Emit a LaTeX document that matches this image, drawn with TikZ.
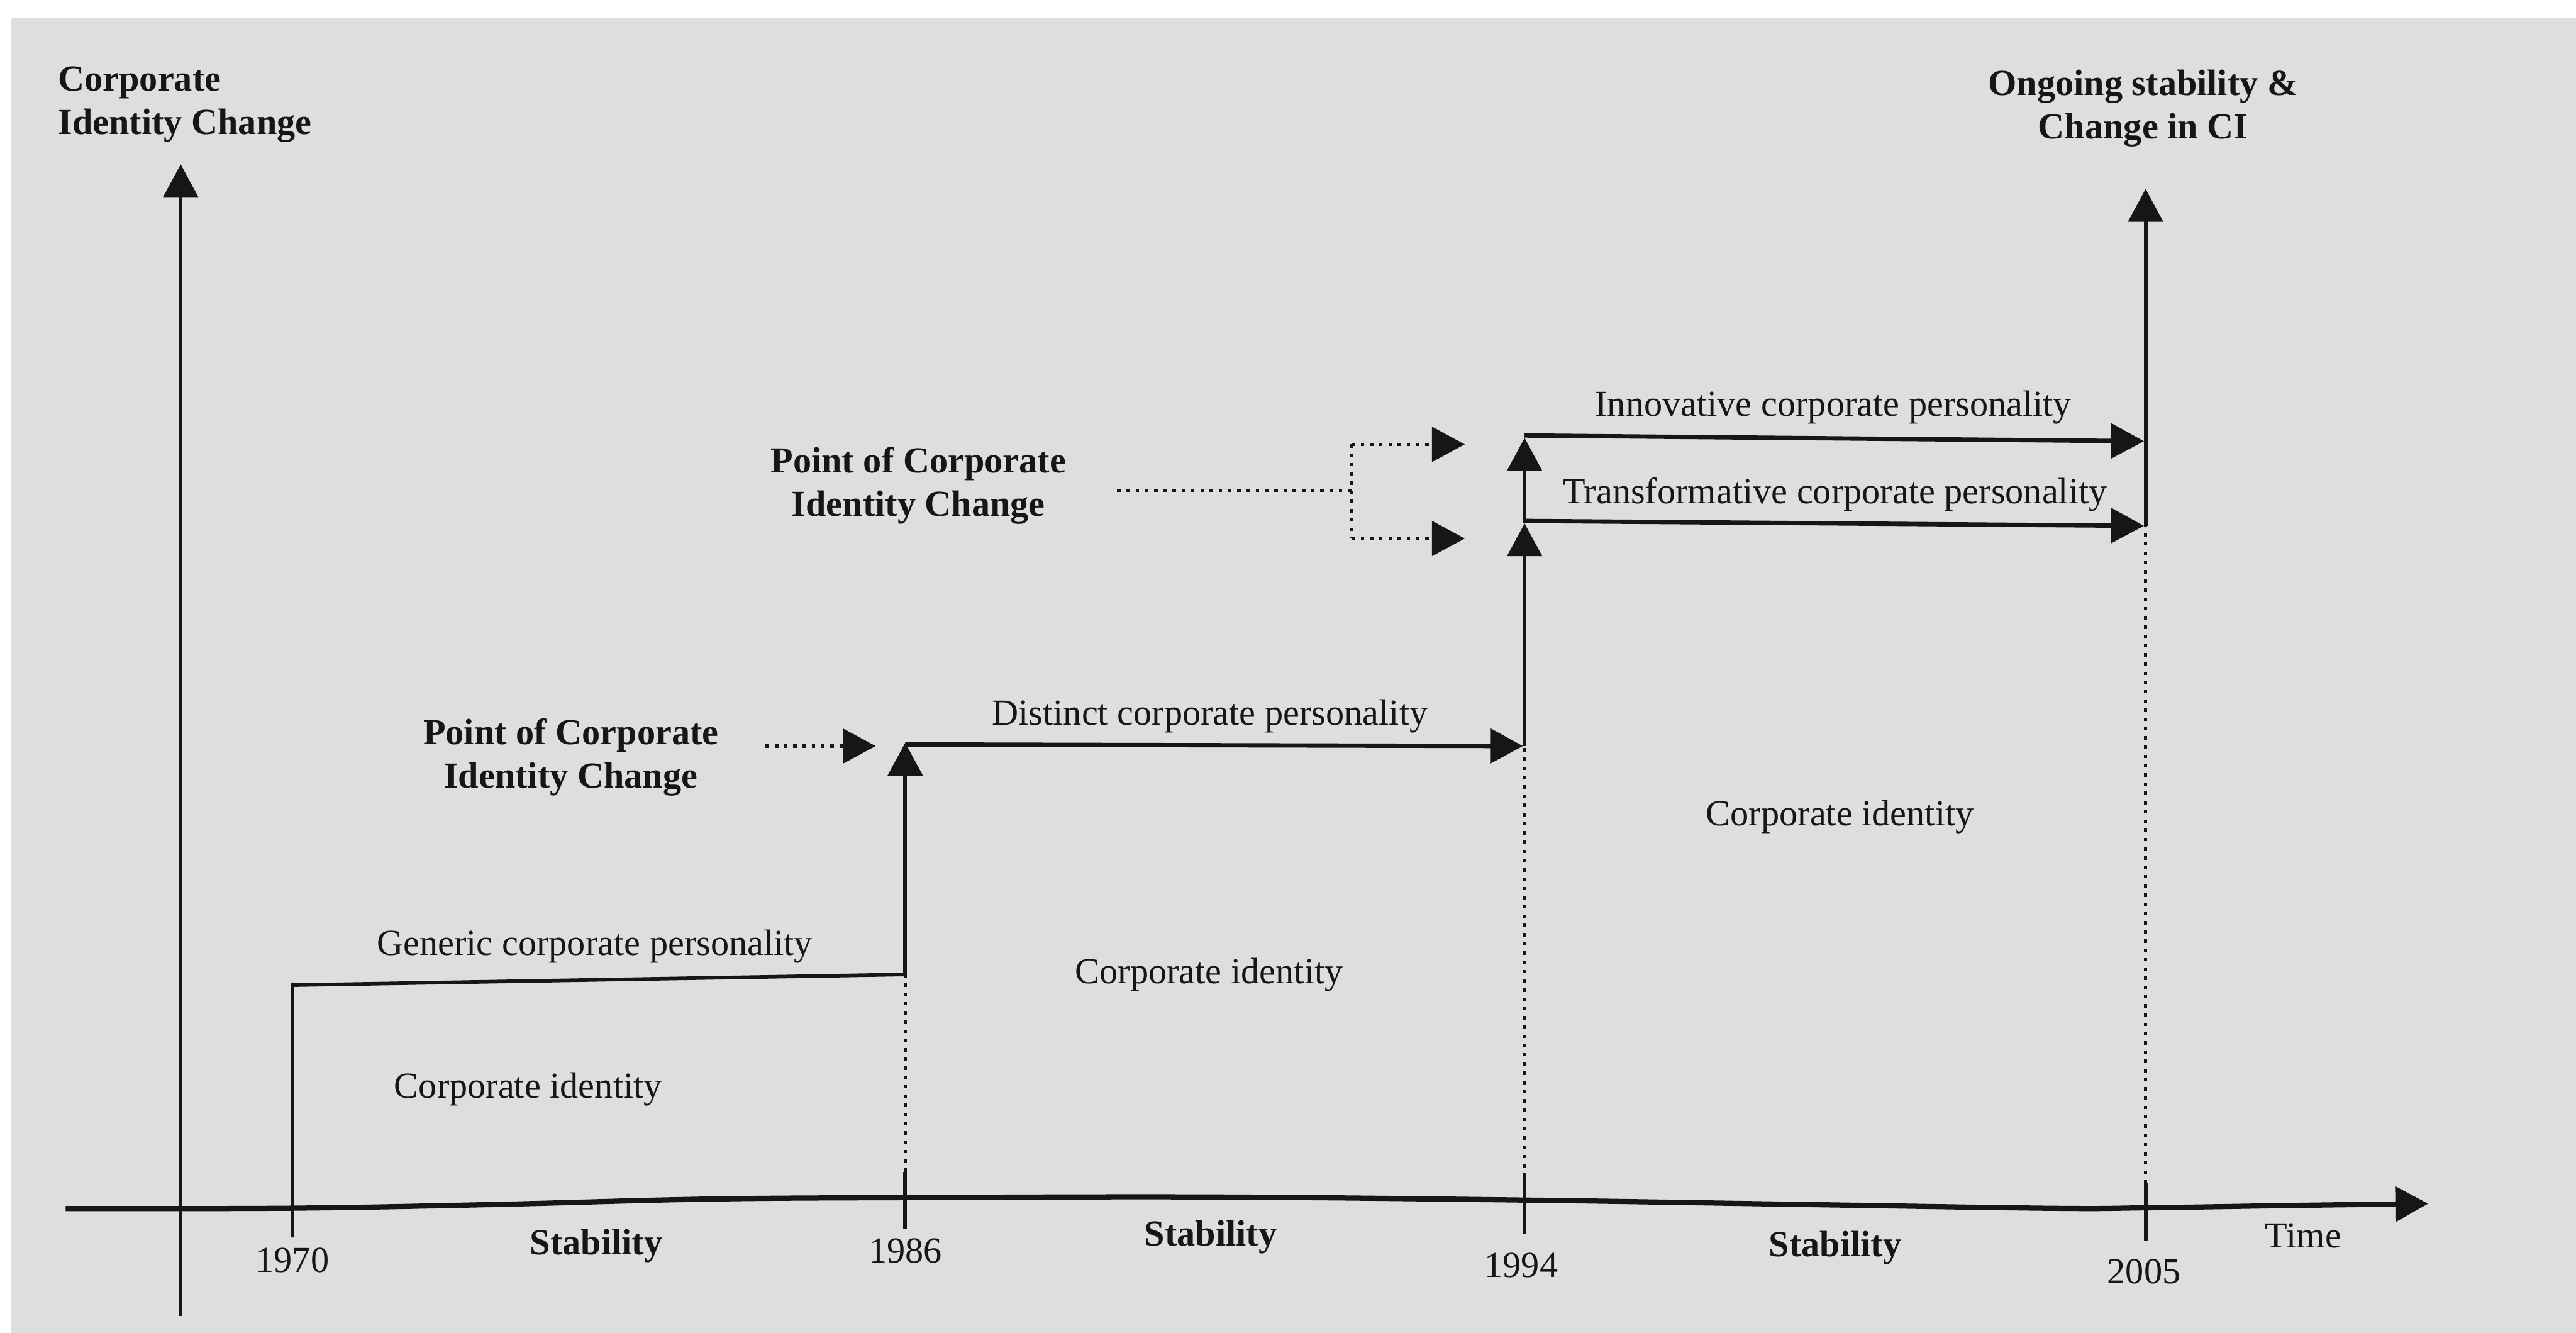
\documentclass[tikz,border=0pt]{standalone}
\usepackage{fontspec}
\setmainfont{Liberation Serif}
\usetikzlibrary{arrows.meta}
\definecolor{paper}{HTML}{DEDEDE}
\definecolor{ink}{HTML}{161616}
\begin{document}
\begin{tikzpicture}[x=0.02cm,y=-0.02cm,
  txt/.style={inner sep=0pt, text=ink, font=\fontsize{12.7}{15}\selectfont, align=center},
  btxt/.style={txt, font=\fontsize{12.7}{15}\selectfont\bfseries},
  tip/.style={-{Triangle[length=0.4cm,width=0.42cm]}},
  thinline/.style={line width=1.25pt, draw=ink},
  boldline/.style={line width=1.5pt, draw=ink},
  dotline/.style={line width=1.2pt, draw=ink, dash pattern=on 1.2pt off 2pt},
]
% paper
\fill[white] (0,0) rectangle (1568,811);
\fill[paper] (7,11) rectangle (1568,811);
\useasboundingbox (0,0) rectangle (1568,811);

% axes
\coordinate (yb) at (110,801);
\coordinate (yt) at (110,100);
\draw[thinline, tip] (yb) -- (yt);
\draw[line width=1.8pt, draw=ink, tip] plot[smooth, tension=0.6] coordinates
  {(40,735.5) (180,735.2) (300,733) (430,729.7) (551,728.8) (736,728.4) (928,730.3)
   (1100,733) (1250,735.3) (1306,735) (1400,733.5) (1478,732.5)};

% 1970 - 1986: generic personality
\coordinate (g0) at (178,753);
\coordinate (g1) at (178,599.5);
\coordinate (g2) at (551,593);
\draw[thinline] (g0) -- (g1) -- (g2);
\coordinate (k86b) at (551,748);
\coordinate (k86t) at (551,713);
\coordinate (s86t) at (551,452);
\draw[thinline] (k86b) -- (k86t);
\draw[dotline] (k86t) -- (g2);
\draw[thinline, tip] (g2) -- (s86t);

% 1986 - 1994: distinct personality
\coordinate (d0) at (551,453);
\coordinate (d1) at (927,454);
\draw[boldline, tip] (d0) -- (d1);

% 1994 step
\coordinate (k94b) at (928,751);
\coordinate (k94t) at (928,716);
\coordinate (v94d) at (928,454);
\coordinate (v94t) at (928,318.5);
\coordinate (v94i) at (928,266.5);
\draw[thinline] (k94b) -- (k94t);
\draw[dotline] (k94t) -- (v94d);
\draw[thinline, tip] (v94d) -- (v94t);
\draw[thinline, tip] (v94t) -- (v94i);

% 1994 - 2005: two personalities
\coordinate (i0) at (928,265);
\coordinate (i1) at (1305,268.5);
\coordinate (t0) at (928,317);
\coordinate (t1) at (1305,320);
\draw[boldline, tip] (i0) -- (i1);
\draw[boldline, tip] (t0) -- (t1);

% 2005 onwards
\coordinate (k05b) at (1306,755);
\coordinate (k05t) at (1306,720);
\coordinate (v05m) at (1306,320);
\coordinate (v05t) at (1306,115);
\draw[thinline] (k05b) -- (k05t);
\draw[dotline] (k05t) -- (v05m);
\draw[thinline, tip] (v05m) -- (v05t);

% change pointers
\coordinate (p1s) at (466,454);
\coordinate (p1e) at (533,454);
\draw[dotline, tip] (p1s) -- (p1e);
\coordinate (p2s) at (680,298.4);
\coordinate (p2j) at (822.6,298.4);
\coordinate (p2a) at (822.6,270.4);
\coordinate (p2b) at (822.6,327.7);
\coordinate (p2ae) at (891.6,270.4);
\coordinate (p2be) at (891.6,327.7);
\draw[dotline] (p2s) -- (p2j);
\draw[dotline] (p2a) -- (p2b);
\draw[dotline, tip] (p2a) -- (p2ae);
\draw[dotline, tip] (p2b) -- (p2be);

% labels
\node[btxt, anchor=west, align=left] (ylab) at (35,63.5) {Corporate\\Identity Change};
\node[btxt] (ongo) at (1304.5,66) {Ongoing stability \&\\Change in CI};
\node[btxt] (pt2) at (559,295.5) {Point of Corporate\\Identity Change};
\node[btxt] (pt1) at (347.5,461) {Point of Corporate\\Identity Change};
\node[txt] (distinct) at (736.5,436) {Distinct corporate personality};
\node[txt] (generic) at (362,576) {Generic corporate personality};
\node[txt] (ci1) at (321.5,663) {Corporate identity};
\node[txt] (ci2) at (736,593) {Corporate identity};
\node[txt] (ci3) at (1120,497) {Corporate identity};
\node[txt] (innov) at (1116,248) {Innovative corporate personality};
\node[txt] (trans) at (1117,301) {Transformative corporate personality};

% time axis labels
\node[txt] (y70) at (178,767) {1970};
\node[txt] (y86) at (551,761) {1986};
\node[txt] (y94) at (926,770) {1994};
\node[txt] (y05) at (1305,774) {2005};
\node[btxt] (st1) at (363,758) {Stability};
\node[btxt] (st2) at (737,753) {Stability};
\node[btxt] (st3) at (1117,759.5) {Stability};
\node[txt] (time) at (1402,752) {Time};
\end{tikzpicture}
\end{document}
